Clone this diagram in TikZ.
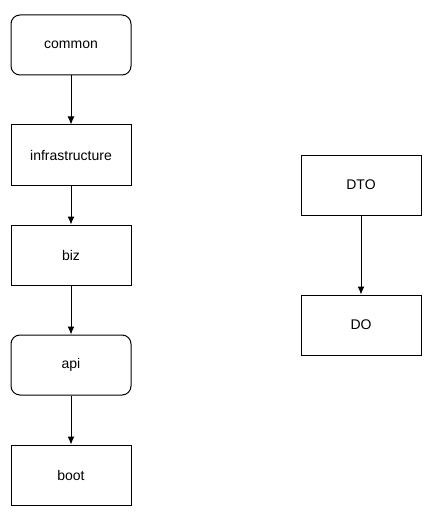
\documentclass[tikz,border=0pt]{standalone}
\usepackage{fontspec}
\usetikzlibrary{arrows.meta}
\setmainfont{Liberation Sans}

\begin{document}
\begin{tikzpicture}[x=1pt, y=-1pt, line width=1pt, every node/.style={font=\fontsize{14}{16}\selectfont},
    box/.style={draw, rectangle, minimum width=120pt, minimum height=60pt, inner sep=0pt},
    rbox/.style={box, rounded corners=9pt}]
    \useasboundingbox (0, 0) rectangle (430, 513);
    \node[rbox] (common) at (71, 45) {common};
    \node[box] (infrastructure) at (71, 155) {infrastructure};
    \node[box] (biz) at (71, 255) {biz};
    \node[rbox] (api) at (71, 365) {api};
    \node[box] (boot) at (71, 475) {boot};
    \node[box] (dto) at (361, 185) {DTO};
    \node[box] (do) at (361, 325) {DO};

    \draw[-{Latex[length=8pt, width=7pt]}] (common) -- (infrastructure);
    \draw[-{Latex[length=8pt, width=7pt]}] (infrastructure) -- (biz);
    \draw[-{Latex[length=8pt, width=7pt]}] (biz) -- (api);
    \draw[-{Latex[length=8pt, width=7pt]}] (api) -- (boot);
    \draw[-{Latex[length=8pt, width=7pt]}] (dto) -- (do);
\end{tikzpicture}
\end{document}
